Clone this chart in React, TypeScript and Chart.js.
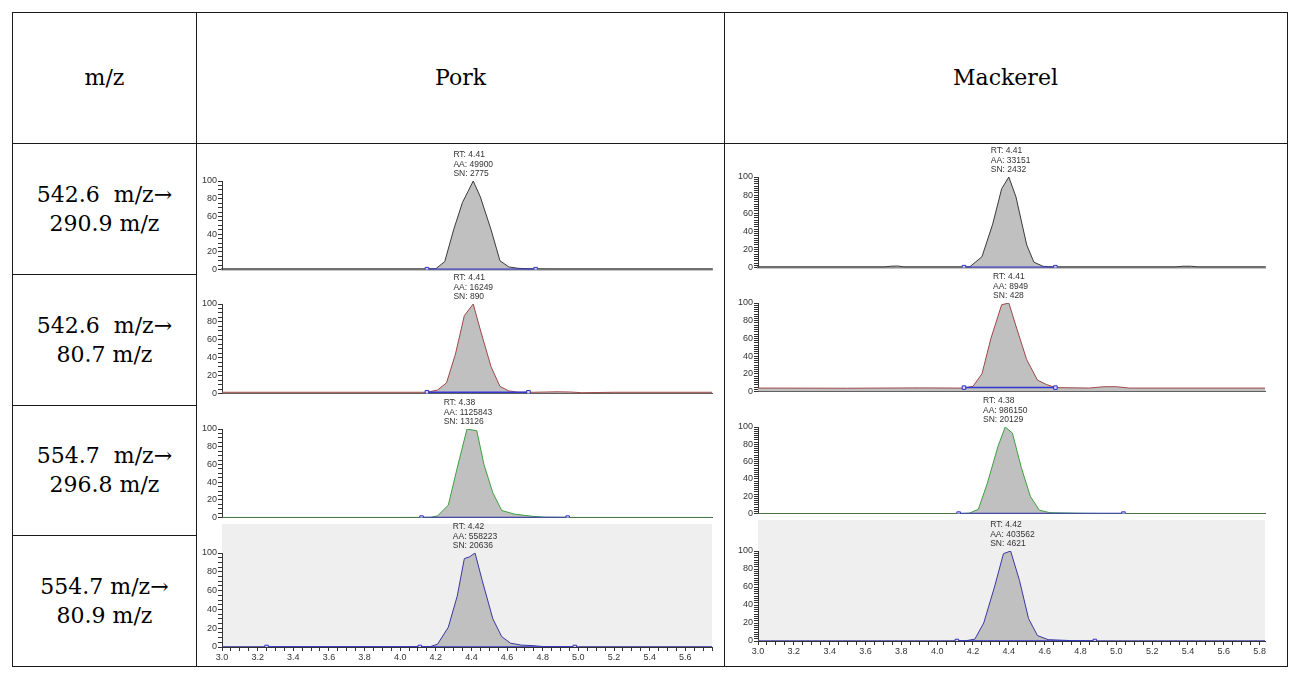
import React, { useEffect, useRef } from 'react';
import { Chart, registerables } from 'chart.js';

Chart.register(...registerables);

// ---------- Table text ----------
const headerLabels = ['m/z', 'Pork', 'Mackerel'];
const transitionLabels = [
  '542.6  m/z→\n290.9 m/z',
  '542.6  m/z→\n80.7 m/z',
  '554.7  m/z→\n296.8 m/z',
  '554.7 m/z→\n80.9 m/z',
];

// ---------- Pork chromatograms (retention time, min / relative abundance, %) ----------
const porkTime1 = [3.0, 4.1, 4.17, 4.2, 4.25, 4.3, 4.35, 4.38, 4.41, 4.45, 4.51, 4.56, 4.61, 4.66, 4.74, 4.85, 5.0, 5.75];
const porkInt1 = [0.5, 0.5, 0.6, 1, 9, 45, 76, 88, 100, 82, 45, 10, 3, 1.5, 0.7, 0.5, 0.4, 0.4];
const porkTime2 = [3.0, 3.6, 4.0, 4.15, 4.21, 4.26, 4.31, 4.36, 4.41, 4.45, 4.51, 4.56, 4.61, 4.66, 4.75, 4.88, 4.95, 5.02, 5.1, 5.2, 5.75];
const porkInt2 = [1.5, 1.5, 1.5, 1.5, 4, 12, 44, 87, 100, 71, 30, 8, 3, 1.5, 1.5, 2, 1.8, 1, 1.2, 1.5, 1.5];
const porkTime3 = [3.0, 4.0, 4.17, 4.21, 4.27, 4.32, 4.375, 4.43, 4.47, 4.52, 4.57, 4.64, 4.74, 4.81, 4.95, 5.75];
const porkInt3 = [0.2, 0.2, 0.3, 2, 14, 56, 100, 98, 60, 28, 8, 4, 1.5, 0.5, 0.2, 0.2];
const porkTime4 = [3.0, 4.0, 4.17, 4.21, 4.27, 4.32, 4.36, 4.39, 4.42, 4.46, 4.52, 4.57, 4.62, 4.68, 4.74, 4.8, 5.0, 5.75];
const porkInt4 = [0.3, 0.3, 0.5, 3, 21, 54, 94, 96, 100, 71, 30, 11, 4, 2, 1.5, 0.5, 0.3, 0.3];

const porkMarks = [[4.15, 4.76], [4.15, 4.72], [4.12, 4.94], [3.25, 4.11, 4.98]];
const porkMarkLevel = [0.5, 1.5, 0, 0];
const porkRT = [4.41, 4.41, 4.38, 4.42];
const porkAA = [49900, 16249, 1125843, 558223];
const porkSN = [2775, 890, 13126, 20636];

// ---------- Mackerel chromatograms ----------
const mackTime1 = [3.0, 3.7, 3.74, 3.78, 3.82, 4.18, 4.25, 4.31, 4.36, 4.4, 4.44, 4.5, 4.54, 4.59, 4.63, 5.33, 5.37, 5.42, 5.46, 5.83];
const mackInt1 = [0.5, 0.5, 1.5, 1.8, 0.5, 0.5, 12, 48, 87, 100, 78, 25, 6, 1.5, 0.5, 0.5, 1.5, 1.5, 0.5, 0.5];
const mackTime2 = [3.0, 3.5, 3.9, 4.1, 4.15, 4.2, 4.25, 4.3, 4.36, 4.4, 4.44, 4.5, 4.56, 4.61, 4.66, 4.85, 4.93, 5.0, 5.07, 5.3, 5.83];
const mackInt2 = [4, 3.8, 4.2, 4, 4, 6, 20, 60, 98, 100, 74, 36, 13, 8, 4.5, 4, 5.5, 5.5, 4, 4, 4];
const mackTime3 = [3.0, 4.0, 4.14, 4.18, 4.23, 4.28, 4.34, 4.38, 4.42, 4.47, 4.52, 4.57, 4.63, 4.8, 5.0, 5.83];
const mackInt3 = [0, 0, 0, 0.5, 5, 35, 78, 100, 93, 53, 20, 4, 1, 0.3, 0, 0];
const mackTime4 = [3.0, 4.0, 4.16, 4.21, 4.26, 4.32, 4.37, 4.41, 4.46, 4.51, 4.56, 4.62, 4.74, 4.85, 5.83];
const mackInt4 = [0.2, 0.2, 0.3, 2, 20, 60, 97, 100, 67, 25, 6, 1.5, 0.5, 0.2, 0.2];

const mackMarks = [[4.15, 4.66], [4.15, 4.66], [4.12, 5.04], [4.11, 4.88]];
const mackMarkLevel = [0.5, 4.5, 0, 0];
const mackRT = [4.41, 4.41, 4.38, 4.42];
const mackAA = [33151, 8949, 986150, 403562];
const mackSN = [2432, 428, 20129, 4621];

const xTickLabels = ['3.0', '3.2', '3.4', '3.6', '3.8', '4.0', '4.2', '4.4', '4.6', '4.8', '5.0', '5.2', '5.4', '5.6', '5.8'];
const yTickLabels = ['0', '20', '40', '60', '80', '100'];

const traceColors = ['#3a3a3a', '#a04848', '#3f9f3f', '#3838a0'];

const porkTimes = [porkTime1, porkTime2, porkTime3, porkTime4];
const porkInts = [porkInt1, porkInt2, porkInt3, porkInt4];
const mackTimes = [mackTime1, mackTime2, mackTime3, mackTime4];
const mackInts = [mackInt1, mackInt2, mackInt3, mackInt4];

type Spec = {
  left: number; top: number; width: number; height: number;
  yAxisW: number; padTop: number; padBottom: number; padRight: number;
  xMax: number; xAxis: boolean; yStep: number;
  times: number[]; ints: number[]; color: string;
  marks: number[]; markY: number;
  rt: number; aa: number; sn: number;
  shadeFrom: number | null; borderColor: string; borderWidth: number;
};

// layout: [canvasTop, y(100), y(0), canvasBottom]
const porkRows = [[144, 181, 273, 276], [268, 304, 397, 400], [392, 429, 522, 524], [516, 553, 647, 667]];
const mackRows = [[144, 177, 271, 274], [266, 303, 396, 398], [390, 427, 519, 520], [512, 551, 641, 665]];
const shadeTop = [524, 520];

const TICK_FONT = { family: '"Liberation Sans", Arial, sans-serif', size: 9 };

function buildSpecs(): Spec[] {
  const specs: Spec[] = [];
  for (let c = 0; c < 2; c++) {
    const rows = c === 0 ? porkRows : mackRows;
    for (let r = 0; r < 4; r++) {
      const [top, y100, y0, bottom] = rows[r];
      const isLast = r === 3;
      const left = c === 0 ? 197 : 725;
      const axisX = c === 0 ? 222 : 758;
      const chartRight = c === 0 ? 715 : 1267;
      const width = c === 0 ? 520 : 545;
      const xH = isLast ? 17 : 0;
      specs.push({
        left, top, width, height: bottom - top,
        yAxisW: axisX - left,
        padTop: y100 - top,
        padBottom: bottom - y0 - xH,
        padRight: left + width - chartRight,
        xMax: c === 0 ? 5.75 : 5.83,
        xAxis: isLast,
        yStep: c === 0 ? 5 : 2.5,
        times: (c === 0 ? porkTimes : mackTimes)[r],
        ints: (c === 0 ? porkInts : mackInts)[r],
        color: traceColors[r],
        marks: (c === 0 ? porkMarks : mackMarks)[r],
        markY: (c === 0 ? porkMarkLevel : mackMarkLevel)[r],
        rt: (c === 0 ? porkRT : mackRT)[r],
        aa: (c === 0 ? porkAA : mackAA)[r],
        sn: (c === 0 ? porkSN : mackSN)[r],
        shadeFrom: isLast ? shadeTop[c] - top : null,
        borderColor: r === 0 ? '#8a8a8a' : '#555555',
        borderWidth: r === 0 ? 2.5 : 1,
      });
    }
  }
  return specs;
}

function Panel({ spec }: { spec: Spec }) {
  const ref = useRef<HTMLCanvasElement | null>(null);
  useEffect(() => {
    if (!ref.current) return;
    const s = spec;
    const annot = {
      id: 'annot',
      beforeDraw(chart: any) {
        if (s.shadeFrom === null) return;
        const { ctx, chartArea } = chart;
        ctx.save();
        ctx.fillStyle = '#efefef';
        ctx.fillRect(chartArea.left, s.shadeFrom, chartArea.right - chartArea.left, chartArea.bottom - s.shadeFrom);
        ctx.restore();
      },
      afterDatasetsDraw(chart: any) {
        const { ctx, chartArea, scales } = chart;
        const x = scales.x.getPixelForValue(s.rt);
        const lines = ['RT: ' + s.rt.toFixed(2), 'AA: ' + s.aa, 'SN: ' + s.sn];
        ctx.save();
        ctx.font = '8.5px "Liberation Sans", Arial, sans-serif';
        ctx.fillStyle = '#333';
        ctx.textAlign = 'left';
        ctx.textBaseline = 'middle';
        const w = Math.max(...lines.map((t) => ctx.measureText(t).width));
        lines.forEach((t, i) => ctx.fillText(t, x - w / 2, chartArea.top - 26 + i * 9.2));
        ctx.restore();
      },
    };
    const chart = new Chart(ref.current, {
      type: 'line',
      data: {
        datasets: [
          {
            data: s.marks.map((m) => ({ x: m, y: s.markY })),
            borderColor: '#3535d0',
            borderWidth: 1.5,
            pointStyle: 'rect',
            pointRadius: 2.5,
            pointBorderWidth: 1,
            pointBorderColor: '#3030c0',
            pointBackgroundColor: '#d8d8ff',
            fill: false,
            order: 0,
          },
          {
            data: s.times.map((t, i) => ({ x: t, y: s.ints[i] })),
            borderColor: s.color,
            borderWidth: 1,
            pointRadius: 0,
            fill: 'origin',
            backgroundColor: '#c0c0c0',
            tension: 0,
            order: 1,
          },
        ],
      },
      options: {
        responsive: false,
        maintainAspectRatio: false,
        animation: false,
        events: [],
        layout: { padding: { top: s.padTop, bottom: s.padBottom, right: s.padRight, left: 0 } },
        plugins: { legend: { display: false }, tooltip: { enabled: false } },
        scales: {
          x: {
            type: 'linear',
            min: 3.0,
            max: s.xMax,
            border: { display: true, color: s.xAxis ? '#333' : s.borderColor, width: s.xAxis ? 1 : s.borderWidth },
            grid: { display: s.xAxis, drawOnChartArea: false, tickLength: 4, tickColor: '#333' },
            ticks: {
              display: s.xAxis,
              stepSize: 0.05,
              includeBounds: false,
              autoSkip: false,
              maxRotation: 0,
              minRotation: 0,
              padding: 1,
              color: '#333',
              font: TICK_FONT,
              callback: (v: any) => {
                const lbl = Number(v).toFixed(1);
                return Math.abs(v * 5 - Math.round(v * 5)) < 1e-6 && xTickLabels.includes(lbl) ? lbl : '';
              },
            },
            afterFit: (sc: any) => { sc.height = s.xAxis ? 17 : 0; },
          },
          y: {
            min: 0,
            max: 100,
            border: { display: true, color: '#333', width: 1 },
            grid: { drawOnChartArea: false, tickLength: 4, tickColor: '#333' },
            ticks: {
              stepSize: s.yStep,
              autoSkip: false,
              padding: 1,
              color: '#333',
              font: TICK_FONT,
              callback: (v: any) => (yTickLabels.includes(String(v)) ? String(v) : ''),
            },
            afterFit: (sc: any) => { sc.width = s.yAxisW; },
          },
        },
      },
      plugins: [annot],
    } as any);
    return () => chart.destroy();
  }, [spec]);
  return (
    <canvas
      ref={ref}
      width={spec.width}
      height={spec.height}
      style={{ position: 'absolute', left: spec.left, top: spec.top, width: spec.width, height: spec.height, display: 'block' }}
    />
  );
}

const specs = buildSpecs();

const serif = '"DejaVu Serif", serif';

function Line({ x, y, w, h }: { x: number; y: number; w: number; h: number }) {
  return <div style={{ position: 'absolute', left: x, top: y, width: w, height: h, background: '#1a1a1a' }} />;
}

function Cell({ x, y, w, h, text }: { x: number; y: number; w: number; h: number; text: string }) {
  return (
    <div
      style={{
        position: 'absolute', left: x, top: y, width: w, height: h,
        display: 'flex', alignItems: 'center', justifyContent: 'center',
        fontFamily: serif, fontSize: 22, lineHeight: '29px', whiteSpace: 'pre',
        textAlign: 'center', color: '#000',
      }}
    >
      {text}
    </div>
  );
}

const rowEdges = [143, 274, 405, 535, 667];

export default function App() {
  return (
    <div style={{ position: 'absolute', left: 0, top: 0, width: 1298, height: 678, background: '#fff', overflow: 'hidden' }}>
      <Cell x={12} y={12} w={185} h={131} text={headerLabels[0]} />
      <Cell x={197} y={12} w={527} h={131} text={headerLabels[1]} />
      <Cell x={724} y={12} w={563} h={131} text={headerLabels[2]} />
      {transitionLabels.map((t, i) => (
        <Cell key={i} x={12} y={rowEdges[i]} w={185} h={rowEdges[i + 1] - rowEdges[i]} text={t} />
      ))}
      {specs.map((s, i) => (
        <Panel key={i} spec={s} />
      ))}
      {/* table rules */}
      <Line x={12} y={12} w={1276} h={1} />
      <Line x={12} y={666} w={1276} h={1} />
      <Line x={12} y={12} w={1} h={655} />
      <Line x={1287} y={12} w={1} h={655} />
      <Line x={196} y={12} w={1} h={655} />
      <Line x={724} y={12} w={1} h={655} />
      <Line x={12} y={143} w={1276} h={1} />
      <Line x={12} y={274} w={185} h={1} />
      <Line x={12} y={405} w={185} h={1} />
      <Line x={12} y={535} w={185} h={1} />
    </div>
  );
}
